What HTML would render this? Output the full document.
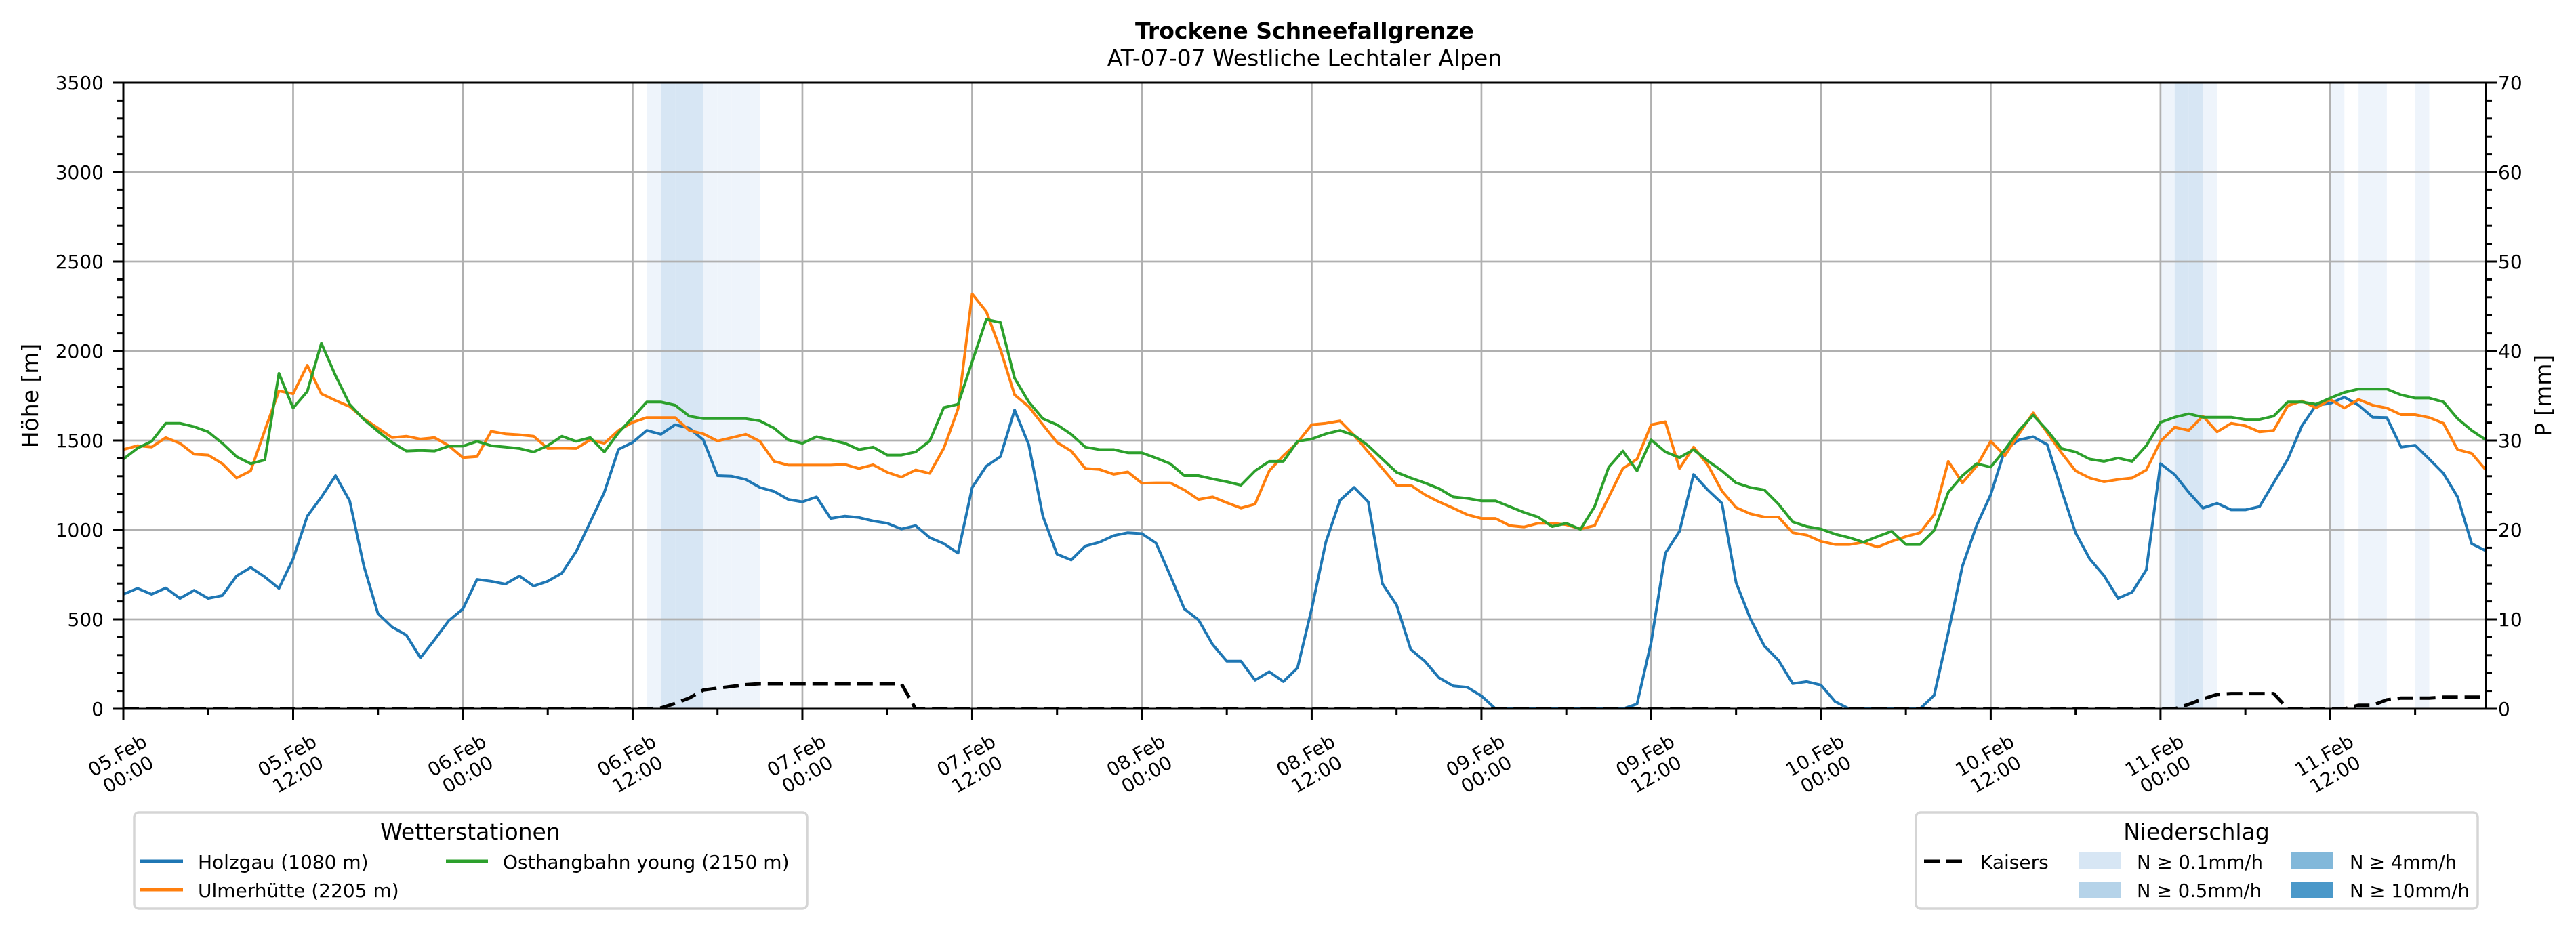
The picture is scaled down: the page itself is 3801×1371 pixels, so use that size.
<!DOCTYPE html>
<html><head><meta charset="utf-8"><style>
html,body{margin:0;padding:0;background:#fff;}
svg{display:block;font-family:"DejaVu Sans","Liberation Sans",sans-serif;}
</style></head><body>
<svg id="chart" xmlns="http://www.w3.org/2000/svg" width="3801" height="1371" viewBox="0 0 3801 1371">
<rect x="0" y="0" width="3801" height="1371" fill="#fff"/>
<text x="1925" y="57" font-size="33" font-weight="bold" text-anchor="middle">Trockene Schneefallgrenze</text>
<text x="1925" y="97" font-size="33" text-anchor="middle">AT-07-07 Westliche Lechtaler Alpen</text>
<g id="bands"></g>
<g id="grid"></g>
<g id="series"></g>
<g id="axes"></g>
<text transform="translate(56,584) rotate(-90)" font-size="33" text-anchor="middle">Höhe [m]</text>
<text transform="translate(3764,584) rotate(-90)" font-size="33" text-anchor="middle">P [mm]</text>
<g>
<rect x="198" y="1199" width="993" height="142" rx="7" fill="#fff" stroke="#d5d5d5" stroke-width="3.5"/>
<text x="694" y="1239" font-size="33" text-anchor="middle">Wetterstationen</text>
<g><line x1="207" y1="1271" x2="270" y2="1271" stroke="#1f77b4" stroke-width="5"/><text x="292" y="1282" font-size="28">Holzgau (1080 m)</text></g>
<g><line x1="207" y1="1313" x2="270" y2="1313" stroke="#ff7f0e" stroke-width="5"/><text x="292" y="1324" font-size="28">Ulmerhütte (2205 m)</text></g>
<g><line x1="658" y1="1271" x2="720" y2="1271" stroke="#2ca02c" stroke-width="5"/><text x="742" y="1282" font-size="28">Osthangbahn young (2150 m)</text></g>
</g>
<g>
<rect x="2827" y="1199" width="829" height="142" rx="7" fill="#fff" stroke="#d5d5d5" stroke-width="3.5"/>
<text x="3241" y="1239" font-size="33" text-anchor="middle">Niederschlag</text>
<g><line x1="2839" y1="1271" x2="2896" y2="1271" stroke="#000" stroke-width="5" stroke-dasharray="23,10"/><text x="2922" y="1282" font-size="28">Kaisers</text></g>
<g><rect x="3067" y="1258" width="63" height="25" fill="#d7e6f4"/><text x="3153" y="1282" font-size="28" textLength="186" lengthAdjust="spacingAndGlyphs">N ≥ 0.1mm/h</text></g>
<g><rect x="3067" y="1301" width="63" height="24" fill="#b5d3e9"/><text x="3153" y="1324" font-size="28" textLength="184" lengthAdjust="spacingAndGlyphs">N ≥ 0.5mm/h</text></g>
<g><rect x="3380" y="1258" width="63" height="25" fill="#82b8da"/><text x="3467" y="1282" font-size="28" textLength="158" lengthAdjust="spacingAndGlyphs">N ≥ 4mm/h</text></g>
<g><rect x="3380" y="1301" width="63" height="24" fill="#4a98c9"/><text x="3467" y="1324" font-size="28" textLength="177" lengthAdjust="spacingAndGlyphs">N ≥ 10mm/h</text></g>
</g>
</svg>
<script>
const holzgau=[640,673,640,675,617,662,617,633,742,790,737,673,838,1077,1183,1303,1162,798,532,457,412,285,386,492,558,723,713,697,742,686,713,758,878,1043,1210,1450,1489,1556,1535,1588,1569,1503,1303,1300,1282,1237,1215,1170,1157,1184,1064,1077,1069,1050,1037,1005,1024,957,923,870,1237,1356,1410,1670,1476,1077,864,832,910,931,968,984,979,926,745,558,497,359,266,266,160,207,152,229,558,931,1165,1237,1157,699,580,332,266,173,128,120,72,0,0,0,0,0,0,0,0,0,0,27,372,870,992,1310,1223,1149,705,505,351,271,141,152,133,40,0,0,0,0,0,0,75,426,798,1024,1197,1449,1503,1521,1476,1223,984,838,745,617,652,777,1370,1309,1210,1122,1149,1112,1112,1130,1263,1396,1582,1697,1707,1742,1697,1630,1628,1463,1473,1396,1316,1184,923,883];
const ulmerhuette=[1449,1471,1463,1516,1484,1423,1418,1370,1290,1330,1556,1777,1761,1920,1761,1723,1689,1622,1569,1516,1524,1508,1516,1471,1404,1410,1551,1537,1532,1524,1455,1457,1455,1503,1484,1556,1601,1628,1628,1628,1556,1537,1497,1516,1535,1495,1383,1362,1362,1362,1362,1366,1343,1364,1322,1295,1335,1316,1457,1676,2319,2221,2008,1755,1689,1588,1489,1441,1343,1338,1311,1324,1261,1263,1263,1223,1170,1184,1152,1122,1144,1330,1415,1489,1588,1596,1609,1529,1436,1343,1250,1250,1197,1157,1122,1085,1064,1064,1024,1016,1037,1037,1029,1005,1024,1184,1343,1396,1588,1604,1343,1463,1363,1217,1125,1090,1072,1072,984,971,936,918,918,931,904,936,963,984,1085,1383,1263,1356,1495,1415,1537,1654,1543,1431,1330,1290,1269,1282,1290,1335,1495,1574,1556,1636,1548,1596,1582,1548,1556,1694,1721,1681,1729,1681,1729,1697,1681,1644,1644,1628,1596,1449,1428,1335];
const osthangbahn=[1396,1457,1495,1596,1596,1577,1548,1484,1410,1370,1391,1875,1681,1774,2043,1862,1702,1617,1551,1489,1441,1444,1441,1468,1468,1495,1471,1463,1455,1436,1471,1524,1495,1516,1436,1543,1628,1715,1715,1697,1636,1622,1622,1622,1622,1609,1569,1503,1484,1521,1503,1484,1449,1463,1418,1418,1436,1497,1684,1702,1941,2176,2160,1848,1715,1622,1588,1535,1463,1449,1449,1431,1431,1402,1370,1303,1303,1285,1269,1250,1330,1383,1383,1495,1508,1537,1556,1529,1471,1396,1322,1290,1263,1231,1184,1176,1162,1162,1130,1098,1072,1019,1037,1003,1130,1351,1441,1330,1503,1436,1404,1449,1386,1330,1263,1237,1223,1144,1045,1019,1005,976,957,931,963,992,918,918,997,1210,1303,1370,1351,1449,1556,1641,1556,1455,1436,1396,1383,1402,1383,1471,1601,1630,1649,1630,1630,1630,1617,1617,1636,1715,1715,1702,1737,1769,1787,1787,1787,1755,1737,1737,1715,1622,1556,1503];
const kaisers=[0,0,0,0,0,0,0,0,0,0,0,0,0,0,0,0,0,0,0,0,0,0,0,0,0,0,0,0,0,0,0,0,0,0,0,0,0,0,0.1,0.6,1.2,2.1,2.3,2.5,2.7,2.8,2.8,2.8,2.8,2.8,2.8,2.8,2.8,2.8,2.8,2.8,0,0,0,0,0,0,0,0,0,0,0,0,0,0,0,0,0,0,0,0,0,0,0,0,0,0,0,0,0,0,0,0,0,0,0,0,0,0,0,0,0,0,0,0,0,0,0,0,0,0,0,0,0,0,0,0,0,0,0,0,0,0,0,0,0,0,0,0,0,0,0,0,0,0,0,0,0,0,0,0,0,0,0,0,0,0,0,0,0,0,0.5,1.1,1.6,1.7,1.7,1.7,1.7,0,0,0,0,0,0.4,0.4,1.0,1.2,1.2,1.2,1.3,1.3,1.3,1.3,1.3];
const precipHours=[37,38,39,40,41,42,43,44,144,145,146,147,156,158,159,162];
const precipRate=[0.2,0.7,0.6,0.8,0.3,0.2,0.2,0.1,0.2,0.6,0.7,0.2,0.1,0.2,0.2,0.1];
const tickLabels=["05.Feb\n00:00","05.Feb\n12:00","06.Feb\n00:00","06.Feb\n12:00","07.Feb\n00:00","07.Feb\n12:00","08.Feb\n00:00","08.Feb\n12:00","09.Feb\n00:00","09.Feb\n12:00","10.Feb\n00:00","10.Feb\n12:00","11.Feb\n00:00","11.Feb\n12:00"];
const yTicks=[0,500,1000,1500,2000,2500,3000,3500];
const y2Ticks=[0,10,20,30,40,50,60,70];

const NS="http://www.w3.org/2000/svg";
const L=182,R=3668,T=122,B=1046,HMAX=167,YMAX=3500,PMAX=70;
const x=h=>L+h*(R-L)/HMAX;
const y=v=>B-v*(B-T)/YMAX;
const y2=v=>B-v*(B-T)/PMAX;
function mk(tag,attrs,parent){const e=document.createElementNS(NS,tag);for(const k in attrs)e.setAttribute(k,attrs[k]);parent.appendChild(e);return e;}
const svg=document.getElementById('chart');
const bands=document.getElementById('bands'),grid=document.getElementById('grid'),series=document.getElementById('series'),axes=document.getElementById('axes');

precipHours.forEach((h,i)=>{
  const r=precipRate[i];
  const col=r>=10?'#4a98c9':r>=4?'#82b8da':r>=0.5?'#d7e6f4':'#eef4fb';
  const el=mk('rect',{x:x(h),y:T,width:x(h+1)-x(h),height:B-T,fill:col},bands);
  
  
});
tickLabels.forEach((t,i)=>{
  const el=mk('line',{x1:x(i*12),x2:x(i*12),y1:T,y2:B,stroke:'#b0b0b0','stroke-width':2.7},grid);
  
  
});
yTicks.forEach(v=>{
  const el=mk('line',{x1:L,x2:R,y1:y(v),y2:y(v),stroke:'#b0b0b0','stroke-width':2.7},grid);
  
  
});
const clip=mk('clipPath',{id:'pc'},svg);mk('rect',{x:L,y:T-3,width:R-L,height:B-T+3},clip);
series.setAttribute('clip-path','url(#pc)');
function line(arr,col,name,yf,dash){
  const pts=arr.map((v,i)=>x(i).toFixed(1)+','+yf(v).toFixed(1)).join(' ');
  const el=mk('polyline',{points:pts,fill:'none',stroke:col,'stroke-width':dash?5:4,'stroke-linejoin':'round'},series);
  if(dash)el.setAttribute('stroke-dasharray',dash);
  
  
}
line(holzgau,'#1f77b4','line-holzgau',y);
line(ulmerhuette,'#ff7f0e','line-ulmerhuette',y);
line(osthangbahn,'#2ca02c','line-osthangbahn',y);
line(kaisers,'#000','line-kaisers',y2,'23,10');

mk('rect',{x:L,y:T,width:R-L,height:B-T,fill:'none',stroke:'#000','stroke-width':3},axes);
for(let h=0;h<=HMAX;h+=6){
  const major=h%12===0;
  mk('line',{x1:x(h),x2:x(h),y1:B,y2:B+(major?16:9),stroke:'#000','stroke-width':3},axes);
}
tickLabels.forEach((t,i)=>{
  const [a,b]=t.split('\n');
  const g=mk('g',{transform:`translate(${x(i*12)-2},1127) rotate(-30)`},axes);
  
  
  mk('text',{x:0,y:-4,'font-size':28,'text-anchor':'middle'},g).textContent=a;
  mk('text',{x:0,y:28,'font-size':28,'text-anchor':'middle'},g).textContent=b;
});
for(let v=0;v<=YMAX;v+=100){
  const major=v%500===0;
  mk('line',{x1:L-(major?16:9),x2:L,y1:y(v),y2:y(v),stroke:'#000','stroke-width':3},axes);
  mk('line',{x1:R,x2:R+(major?16:9),y1:y(v),y2:y(v),stroke:'#000','stroke-width':3},axes);
}
yTicks.forEach(v=>{
  const el=mk('text',{x:153,y:y(v)+10,'font-size':28,'text-anchor':'end'},axes);
  el.textContent=v;
  
  
});
y2Ticks.forEach(v=>{
  const el=mk('text',{x:3686,y:y2(v)+10,'font-size':28,'text-anchor':'start'},axes);
  el.textContent=v;
  
  
});
</script>
</body></html>
